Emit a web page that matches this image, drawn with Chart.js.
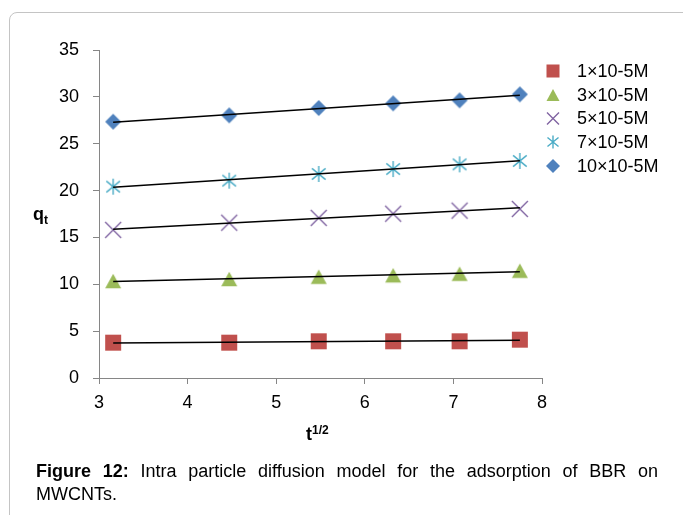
<!DOCTYPE html>
<html>
<head>
<meta charset="utf-8">
<script src="https://cdn.jsdelivr.net/npm/chart.js@4.4.0/dist/chart.umd.min.js"></script>
<style>
    html, body { margin: 0; padding: 0; background: #fff; }
    #wrap { position: relative; width: 683px; height: 515px; overflow: hidden; }
    #frame { position: absolute; left: 9px; top: 12px; width: 690px; height: 530px; border: 1px solid #c4c4c4; border-radius: 8px; box-sizing: border-box; }
    #chart { position: absolute; left: 0; top: 0; }
    #caption { position: absolute; left: 36px; top: 460px; width: 622px; font: 18px/23px "Liberation Sans", Arial, sans-serif; color: #000; }
    #caption .l1 { text-align: justify; text-align-last: justify; }
</style>
</head>
<body>
<div id="wrap">
    <div id="frame"></div>
    <canvas id="chart" width="683" height="515"></canvas>
    <div id="caption">
        <div class="l1"><b>Figure 12:</b> Intra particle diffusion model for the adsorption of BBR on</div>
        <div>MWCNTs.</div>
    </div>
</div>
<script>
// t^1/2 values
const xValues = [3.16, 4.47, 5.48, 6.32, 7.07, 7.75];

const seriesNames = ['1×10-5M', '3×10-5M', '5×10-5M', '7×10-5M', '10×10-5M'];
const q1 = [3.77, 3.77, 3.92, 3.92, 3.92, 4.09];
const q3 = [10.35, 10.57, 10.81, 10.96, 11.13, 11.45];
const q5 = [15.8, 16.57, 17.08, 17.53, 17.86, 18.04];
const q7 = [20.42, 21.06, 21.77, 22.3, 22.8, 23.16];
const q10 = [27.35, 28.03, 28.81, 29.31, 29.63, 30.27];

const xTicks = [3, 4, 5, 6, 7, 8];
const yTicks = [0, 5, 10, 15, 20, 25, 30, 35];

const seriesValues = [q1, q3, q5, q7, q10];
const colors = ['#C0504D', '#9BBB59', '#8064A2', '#4BACC6', '#4F81BD'];
const kinds = ['square', 'triangle', 'x', 'star', 'diamond'];

const FONT = '"Liberation Sans", Arial, sans-serif';

/**
 * Draw one Excel-like marker
 */
function drawMarker(ctx, kind, cx, cy, s, color) {
    const h = s / 2;
    ctx.save();
    ctx.fillStyle = color;
    ctx.strokeStyle = color;
    ctx.lineWidth = 1.4;
    ctx.beginPath();
    if (kind === 'square') {
        ctx.fillRect(cx - h, cy - h, s, s);
    } else if (kind === 'triangle') {
        const th = s * 0.92;
        ctx.moveTo(cx, cy - th / 2);
        ctx.lineTo(cx + h, cy + th / 2);
        ctx.lineTo(cx - h, cy + th / 2);
        ctx.closePath();
        ctx.fill();
    } else if (kind === 'diamond') {
        ctx.moveTo(cx, cy - h);
        ctx.lineTo(cx + h, cy);
        ctx.lineTo(cx, cy + h);
        ctx.lineTo(cx - h, cy);
        ctx.closePath();
        ctx.fill();
    } else if (kind === 'x') {
        ctx.moveTo(cx - h, cy - h); ctx.lineTo(cx + h, cy + h);
        ctx.moveTo(cx + h, cy - h); ctx.lineTo(cx - h, cy + h);
        ctx.stroke();
    } else if (kind === 'star') {
        ctx.moveTo(cx, cy - h); ctx.lineTo(cx, cy + h);
        ctx.moveTo(cx - h * 0.85, cy - h * 0.7); ctx.lineTo(cx + h * 0.85, cy + h * 0.7);
        ctx.moveTo(cx + h * 0.85, cy - h * 0.7); ctx.lineTo(cx - h * 0.85, cy + h * 0.7);
        ctx.stroke();
    }
    ctx.restore();
}

function makeMarker(kind, color, s) {
    const c = document.createElement('canvas');
    c.width = s + 4;
    c.height = s + 4;
    drawMarker(c.getContext('2d'), kind, c.width / 2, c.height / 2, s, color);
    return c;
}

function trend(ys) {
    const n = xValues.length;
    const mx = xValues.reduce((a, b) => a + b, 0) / n;
    const my = ys.reduce((a, b) => a + b, 0) / n;
    let sxy = 0, sxx = 0;
    for (let i = 0; i < n; i++) {
        sxy += (xValues[i] - mx) * (ys[i] - my);
        sxx += (xValues[i] - mx) * (xValues[i] - mx);
    }
    const b = sxy / sxx;
    const a = my - b * mx;
    const x0 = xValues[0], x1 = xValues[n - 1];
    return [{ x: x0, y: a + b * x0 }, { x: x1, y: a + b * x1 }];
}

const datasets = [];
seriesValues.forEach((ys, i) => {
    datasets.push({
        label: seriesNames[i],
        data: ys.map((y, j) => ({ x: xValues[j], y: y })),
        pointStyle: makeMarker(kinds[i], colors[i], 16),
        pointRadius: 8,
        showLine: false,
        order: 1
    });
});
seriesValues.forEach((ys) => {
    datasets.push({
        label: '',
        data: trend(ys),
        showLine: true,
        borderColor: '#000',
        borderWidth: 1.5,
        pointRadius: 0,
        order: 0
    });
});

const extras = {
    id: 'extras',
    afterDraw(chart) {
        const ctx = chart.ctx;
        ctx.save();
        // legend
        const rows = [71, 95, 118.5, 142, 166];
        const sizes = [13, 13, 12, 13, 14];
        ctx.font = '18px ' + FONT;
        ctx.fillStyle = '#000';
        ctx.textBaseline = 'middle';
        ctx.textAlign = 'left';
        seriesNames.forEach((name, i) => {
            drawMarker(ctx, kinds[i], 553, rows[i], sizes[i], colors[i]);
            ctx.fillText(name, 577, rows[i] + 1);
        });
        // axis titles
        ctx.textBaseline = 'alphabetic';
        ctx.font = 'bold 18px ' + FONT;
        ctx.fillText('q', 33, 220);
        ctx.font = 'bold 12px ' + FONT;
        ctx.fillText('t', 44, 224);
        ctx.font = 'bold 18px ' + FONT;
        ctx.fillText('t', 306, 440);
        ctx.font = 'bold 12px ' + FONT;
        ctx.fillText('1/2', 312, 434);
        ctx.restore();
    }
};

const axisGrid = {
    display: true,
    drawOnChartArea: false,
    drawTicks: true,
    tickLength: 6,
    tickColor: '#868686',
    color: '#868686'
};

new Chart(document.getElementById('chart'), {
    type: 'scatter',
    data: { datasets: datasets },
    options: {
        responsive: false,
        devicePixelRatio: 1,
        animation: false,
        layout: { padding: { left: 10, top: 50, right: 141, bottom: 0 } },
        plugins: {
            legend: { display: false },
            tooltip: { enabled: false }
        },
        scales: {
            x: {
                type: 'linear',
                min: 3,
                max: 8,
                afterBuildTicks: (s) => { s.ticks = xTicks.map(v => ({ value: v })); },
                afterFit: (s) => { s.height = 137; },
                grid: axisGrid,
                border: { color: '#868686', width: 1 },
                ticks: { color: '#000', font: { size: 18, family: FONT }, padding: 8 }
            },
            y: {
                type: 'linear',
                min: 0,
                max: 35,
                afterBuildTicks: (s) => { s.ticks = yTicks.map(v => ({ value: v })); },
                afterFit: (s) => { s.width = 89; },
                grid: axisGrid,
                border: { color: '#868686', width: 1 },
                ticks: { color: '#000', font: { size: 18, family: FONT }, padding: 14 }
            }
        }
    },
    plugins: [extras]
});
</script>
</body>
</html>
